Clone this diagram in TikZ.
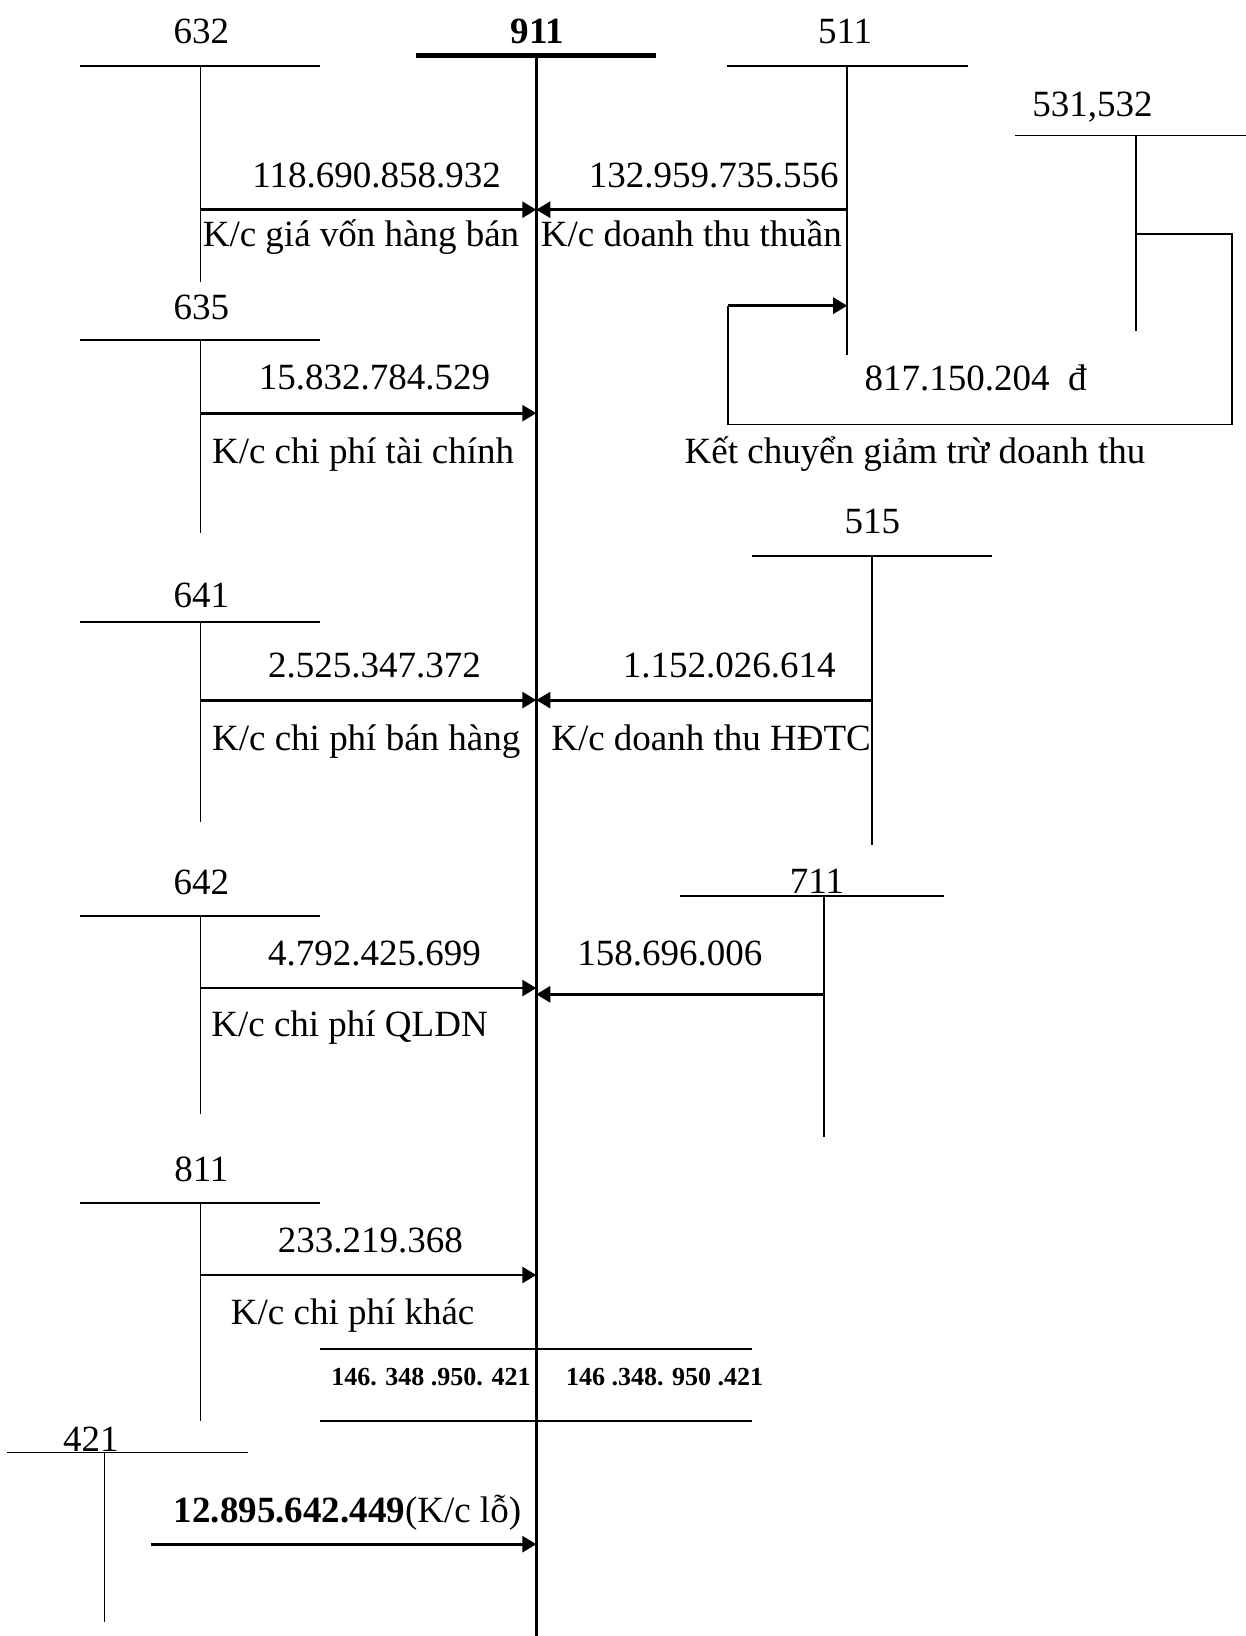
\documentclass[tikz,border=0pt]{standalone}
\usepackage{fontspec}
\setmainfont{Liberation Serif}
\usetikzlibrary{arrows.meta}

\tikzset{
  tline/.style={line width=0.8pt},
  arr/.style={line width=1.4pt,-{Triangle[length=7pt,width=8pt]}},
  txt/.style={font=\fontsize{18.5}{22}\selectfont,inner sep=0pt,anchor=base},
  txtb/.style={font=\fontsize{18.5}{22}\selectfont\bfseries,inner sep=0pt,anchor=base},
  tot/.style={font=\fontsize{13}{15}\selectfont\bfseries,inner sep=0pt,anchor=base}
}

\begin{document}
\begin{tikzpicture}[x=0.5218pt,y=-0.5218pt]
    \useasboundingbox (0,0) rectangle (1194,1568);

    % Account 911
    \draw[line width=2.4pt] (399,53) -- (629,53);
    \draw[line width=1.6pt] (514,53) -- (514,1568);
    \node[txtb] (n911) at (515,42) {911};

    % Accounts on the left, all carried to 911
    \foreach \acc/\ty/\ly/\by/\ay in {632/63/42/270/201, 635/326/306/511/396, 641/596/582/788/671, 642/878/857/1068/947, 811/1153/1132/1362/1222} {
        \draw[tline] (77,\ty) -- (307,\ty);
        \draw[tline] (192,\ty) -- (192,\by);
        \node[txt] (n\acc) at (193,\ly) {\acc};
        \coordinate (t\acc) at (192,\ay);
        \coordinate (m\acc) at (514,\ay);
        \draw[arr] (t\acc) -- (m\acc);
    }

    % Labels of the left accounts
    \node[txt] (v632) at (361,180) {118.690.858.932};
    \node[txt,anchor=base west] (k632) at (194,236) {K/c giá vốn hàng bán};
    \node[txt] (v635) at (359,373) {15.832.784.529};
    \node[txt] (k635) at (348,444) {K/c chi phí tài chính};
    \node[txt] (v641) at (359,649) {2.525.347.372};
    \node[txt] (k641) at (351,719) {K/c chi phí bán hàng};
    \node[txt] (v642) at (359,925) {4.792.425.699};
    \node[txt] (k642) at (335,993) {K/c chi phí QLDN};
    \node[txt] (v811) at (355,1200) {233.219.368};
    \node[txt] (k811) at (338,1269) {K/c chi phí khác};

    % Account 511
    \draw[tline] (697,63) -- (928,63);
    \draw[tline] (812,63) -- (812,340);
    \node[txt] (n511) at (810,42) {511};
    \coordinate (t511) at (812,201);
    \coordinate (m511) at (514,201);
    \draw[arr] (t511) -- (m511);
    \node[txt] (v511) at (684,180) {132.959.735.556};
    \node[txt,anchor=base west] (k511) at (518,236) {K/c doanh thu thuần};

    % Account 531,532 and the loop back to 511
    \draw[tline] (973,130) -- (1194,130);
    \draw[tline] (1089,130) -- (1089,317);
    \node[txt] (n531) at (1047,112) {531,532};
    \coordinate (t531) at (1089,224);
    \coordinate (c1) at (1181,224);
    \coordinate (c2) at (1181,407);
    \coordinate (c3) at (698,407);
    \coordinate (c4) at (698,293);
    \coordinate (r511) at (812,293);
    \draw[tline] (t531) -- (c1) -- (c2) -- (c3) -- (c4);
    \draw[arr] (c4) -- (r511);
    \node[txt] (v531) at (935,374) {817.150.204~~đ};
    \node[txt] (k531) at (877,444) {Kết chuyển giảm trừ doanh thu};

    % Account 515
    \draw[tline] (721,533) -- (951,533);
    \draw[tline] (836,533) -- (836,810);
    \node[txt] (n515) at (836,511) {515};
    \coordinate (t515) at (836,671);
    \coordinate (m515) at (514,671);
    \draw[arr] (t515) -- (m515);
    \node[txt] (v515) at (699,649) {1.152.026.614};
    \node[txt,anchor=base west] (k515) at (528,719) {K/c doanh thu HĐTC};

    % Account 711
    \draw[tline] (652,859) -- (905,859);
    \draw[tline] (790,859) -- (790,1090);
    \node[txt] (n711) at (783,856) {711};
    \coordinate (t711) at (790,953);
    \coordinate (m711) at (514,953);
    \draw[arr] (t711) -- (m711);
    \node[txt] (v711) at (642,925) {158.696.006};

    % Totals of 911
    \draw[tline] (307,1293) -- (721,1293);
    \draw[tline] (307,1362) -- (721,1362);
    \node[tot] (sumL) at (413,1328) {146. 348 .950. 421};
    \node[tot] (sumR) at (637,1328) {146 .348. 950 .421};

    % Account 421
    \draw[tline] (7,1392) -- (238,1392);
    \draw[tline] (100,1392) -- (100,1555);
    \node[txt] (n421) at (87,1391) {421};
    \coordinate (t421) at (145,1480);
    \coordinate (m421) at (514,1480);
    \draw[arr] (t421) -- (m421);
    \node[txt] (v421) at (333,1459) {\textbf{12.895.642.449}(K/c lỗ)};

\end{tikzpicture}
\end{document}
